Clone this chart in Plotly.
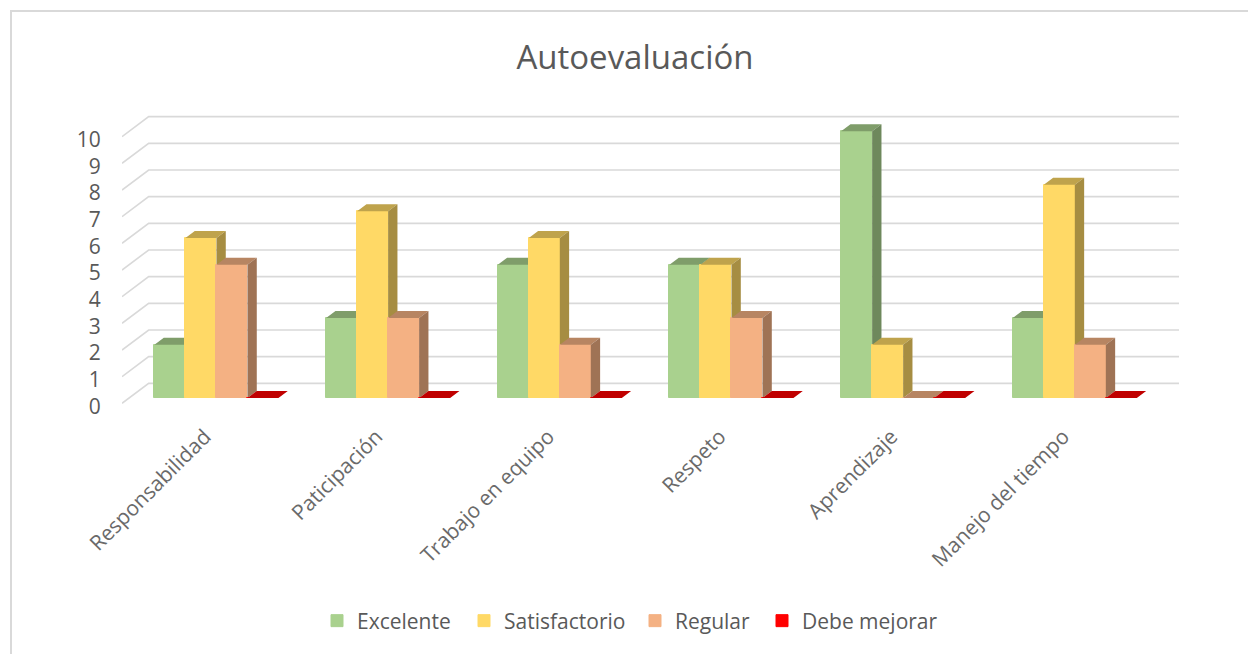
import plotly.graph_objects as go

categories = ["Responsabilidad", "Paticipación", "Trabajo en equipo", "Respeto", "Aprendizaje", "Manejo del tiempo"]
excelente = [2, 3, 5, 5, 10, 3]
satisfactorio = [6, 7, 6, 5, 2, 8]
regular = [5, 3, 2, 3, 0, 2]
debe_mejorar = [0, 0, 0, 0, 0, 0]
y_ticks = [0, 1, 2, 3, 4, 5, 6, 7, 8, 9, 10]
legend_text_x = [357, 504, 675, 802]

series = [
    ("Excelente", excelente, "#A9D18E", "#7F9D6A", "#6E885C"),
    ("Satisfactorio", satisfactorio, "#FFD966", "#BFA34C", "#A68D42"),
    ("Regular", regular, "#F4B183", "#B78562", "#9F7355"),
    ("Debe mejorar", debe_mejorar, "#FF0000", "#C00000", "#A60000"),
]

W, H = 1248, 654
ML, MR, MT, MB = 122, 69, 114, 248
XR = (-0.5, 5.657)
YR = (-0.1, 10.85)
sx = (W - ML - MR) / (XR[1] - XR[0])
sy = (H - MT - MB) / (YR[1] - YR[0])
DX = 26.67 / sx
DY = 0.75
F0, F1 = 0.30, 0.65
BW = 31 / sx
SHIFT = F0 * DX + 0.6 / sx
BASE = 0.2

fig = go.Figure()

gx, gy = [], []
for v in y_ticks:
    gx += [XR[0], XR[0] + DX, XR[1], None]
    gy += [v, v + DY, v + DY, None]
fig.add_trace(go.Scatter(x=gx, y=gy, mode="lines", line=dict(color="#D9D9D9", width=1.6),
                         showlegend=False, hoverinfo="skip"))

for s, (name, vals, front, top, side) in enumerate(series):
    xa, ya = "x" + str(s + 2), "y" + str(s + 2)
    lefts = [i + SHIFT + (s - 2) * BW for i in range(len(vals))]
    fig.add_trace(go.Bar(x=[l + BW / 2 for l in lefts], y=vals, base=BASE, width=BW, name=name,
                         marker=dict(color=front, line=dict(color=front, width=1)),
                         xaxis=xa, yaxis=ya, legend="legend" if s == 0 else "legend" + str(s + 1)))
    dx = (F1 - F0) * DX
    dy = (F1 - F0) * DY
    tx, ty, rx, ry = [], [], [], []
    for l, v in zip(lefts, vals):
        t = BASE + v
        tx += [l, l + dx, l + BW + dx, l + BW, l, None]
        ty += [t, t + dy, t + dy, t, t, None]
        if v > 0:
            r = l + BW
            rx += [r, r + dx, r + dx, r, r, None]
            ry += [BASE, BASE + dy, t + dy, t, BASE, None]
    fig.add_trace(go.Scatter(x=tx, y=ty, mode="lines", fill="toself", fillcolor=top, line=dict(width=0),
                             showlegend=False, hoverinfo="skip", xaxis=xa, yaxis=ya))
    if rx:
        fig.add_trace(go.Scatter(x=rx, y=ry, mode="lines", fill="toself", fillcolor=side, line=dict(width=0),
                                 showlegend=False, hoverinfo="skip", xaxis=xa, yaxis=ya))

font_c = "#595959"
family = "Open Sans"
pw, ph = W - ML - MR, H - MT - MB
px_x = lambda p: (p - ML) / pw
px_y = lambda p: 1 - (p - MT) / ph
layout = dict(
    width=W, height=H, margin=dict(l=ML, r=MR, t=MT, b=MB, autoexpand=False),
    paper_bgcolor="white", plot_bgcolor="white",
    font=dict(family=family, color=font_c),
    title=dict(text="Autoevaluación", x=635 / W, y=1 - 57 / H, xref="container", yref="container",
               xanchor="center", yanchor="middle", font=dict(size=33, color=font_c, family=family)),
    bargap=0,
    xaxis=dict(range=list(XR), tickmode="array", tickvals=list(range(6)), ticktext=categories, tickangle=-45,
               ticks="outside", ticklen=9, tickcolor="rgba(0,0,0,0)", showgrid=False, zeroline=False, showline=False,
               ticklabelshift=-3, tickfont=dict(size=21, color="#6A6A6A"), automargin=False),
    yaxis=dict(range=list(YR), tickmode="array", tickvals=y_ticks, ticks="outside", ticklen=16,
               tickcolor="rgba(0,0,0,0)", showgrid=False, zeroline=False, showline=False,
               ticklabelshift=3, tickfont=dict(size=21, color=font_c), automargin=False),
    shapes=[dict(type="path", xref="paper", yref="paper", line=dict(color="#D9D9D9", width=2),
                 path="M %f,%f L %f,%f L %f,%f" % (
                     px_x(11), px_y(654), px_x(11), px_y(11), px_x(1248), px_y(11)))],
)
for s, tx0 in enumerate(legend_text_x):
    key = "legend" if s == 0 else "legend" + str(s + 1)
    layout[key] = dict(x=(tx0 - 40) / W, xref="container", xanchor="left", y=1 - 621 / H, yref="container",
                       yanchor="middle", font=dict(size=21, color=font_c), itemclick=False,
                       bgcolor="rgba(0,0,0,0)")
for s in range(4):
    n = str(s + 2)
    layout["xaxis" + n] = dict(range=list(XR), overlaying="x", visible=False, matches="x")
    layout["yaxis" + n] = dict(range=list(YR), overlaying="y", visible=False, matches="y")
fig.update_layout(**layout)
fig.write_html("out.html", config={"displayModeBar": False},
               post_script="document.body.style.margin='0';document.body.style.overflow='hidden';")
